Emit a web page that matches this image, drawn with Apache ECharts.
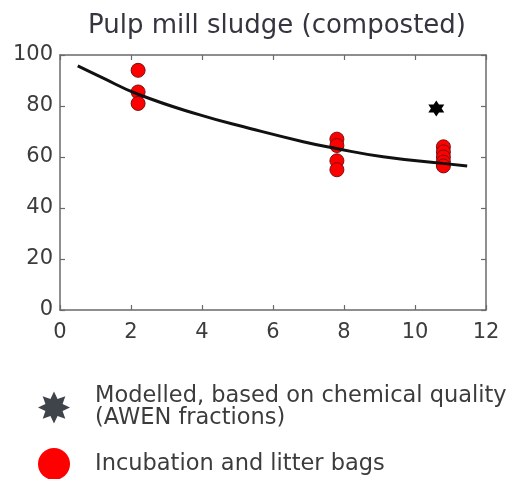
<!DOCTYPE html>
<html><head><meta charset="utf-8">
<script src="https://cdn.jsdelivr.net/npm/echarts@6/dist/echarts.min.js"></script>
<style>html,body{margin:0;padding:0;background:#fff}#c{width:510px;height:479px}</style>
</head><body><div id="c"></div>
<script>
const titleText = 'Pulp mill sludge (composted)';
const seriesNames = ['Modelled, based on chemical quality\n(AWEN fractions)', 'Incubation and litter bags'];
const xTicks = {min: 0, max: 12, interval: 2};
const yTicks = {min: 0, max: 100, interval: 20};
// measured points (incubation and litter bags)
const obsX = [2.2, 2.2, 2.2, 7.8, 7.8, 7.8, 7.8, 10.8, 10.8, 10.8, 10.8, 10.8];
const obsY = [94, 85.5, 81, 67, 64.5, 58.5, 55, 64, 62, 60, 58, 56.5];
// modelled point
const modX = [10.6];
const modY = [79];
// fitted curve
const curveX = [0.5, 1.13, 2.2, 3.94, 5.35, 6.85, 7.75, 9.1, 10.78, 11.47];
const curveY = [95.7, 91.5, 84.6, 76.5, 71.2, 66, 63.4, 60.1, 57.5, 56.5];

function starPath(n, inner) {
  let d = '';
  for (let i = 0; i < 2 * n; i++) {
    const r = i % 2 === 0 ? 1 : inner;
    const a = Math.PI * i / n - Math.PI / 2;
    const x = (r * Math.cos(a)).toFixed(3), y = (r * Math.sin(a)).toFixed(3);
    d += (i === 0 ? 'M' : 'L') + x + ' ' + y + ' ';
  }
  return 'path://' + d + 'Z';
}
const hexStar = starPath(6, 0.58);
const octStar = starPath(8, 0.58);

const font = 'DejaVu Sans';
const txt = '#3c3c3c';
const axisLine = {show: true, onZero: false, lineStyle: {color: '#6a6a6a', width: 1.5}};
const tick = {show: true, inside: true, length: 5, lineStyle: {color: '#6a6a6a', width: 1.2}};

const chart = echarts.init(document.getElementById('c'), null, {renderer: 'canvas'});
chart.setOption({
  animation: false,
  backgroundColor: '#fff',
  title: {text: titleText, left: 272, textAlign: 'center', top: 8,
    textStyle: {fontFamily: font, fontSize: 26, fontWeight: 'normal', color: '#353540'}},
  grid: {left: 60, right: 24, top: 55, bottom: 169},
  xAxis: [
    {type: 'value', min: xTicks.min, max: xTicks.max, interval: xTicks.interval, position: 'bottom',
     axisLine, axisTick: tick, splitLine: {show: false},
     axisLabel: {fontFamily: font, fontSize: 21, color: txt, margin: 12}},
    {type: 'value', min: xTicks.min, max: xTicks.max, interval: xTicks.interval, position: 'top',
     axisLine, axisTick: tick, splitLine: {show: false}, axisLabel: {show: false}}
  ],
  yAxis: [
    {type: 'value', min: yTicks.min, max: yTicks.max, interval: yTicks.interval, position: 'left',
     axisLine, axisTick: tick, splitLine: {show: false},
     axisLabel: {fontFamily: font, fontSize: 21, color: txt, margin: 7}},
    {type: 'value', min: yTicks.min, max: yTicks.max, interval: yTicks.interval, position: 'right',
     axisLine, axisTick: tick, splitLine: {show: false}, axisLabel: {show: false}}
  ],
  legend: {
    orient: 'vertical', left: 38, top: 385, height: 200, padding: 0,
    itemGap: 18, itemWidth: 32, itemHeight: 32,
    selectedMode: false,
    textStyle: {fontFamily: font, fontSize: 22.5, color: txt, lineHeight: 22, padding: [0, 0, 0, 20]},
    data: [
      {name: seriesNames[0], icon: octStar, itemStyle: {color: '#3e444a', borderWidth: 0, opacity: 1}},
      {name: seriesNames[1], icon: 'circle', itemStyle: {color: '#ff0000', borderWidth: 0, opacity: 1}}
    ]
  },
  series: [
    {type: 'line', name: 'curve', data: curveX.map((x, i) => [x, curveY[i]]), smooth: true,
     showSymbol: false, lineStyle: {color: '#111', width: 3}, z: 3},
    {type: 'scatter', name: seriesNames[1], data: obsX.map((x, i) => [x, obsY[i]]),
     symbol: 'circle', symbolSize: 14,
     itemStyle: {color: '#ff0000', borderColor: '#7a1010', borderWidth: 1, opacity: 1}, z: 2},
    {type: 'scatter', name: seriesNames[0], data: modX.map((x, i) => [x, modY[i]]),
     symbol: hexStar, symbolSize: 16, itemStyle: {color: '#000', opacity: 1}, z: 4}
  ]
});
</script></body></html>
